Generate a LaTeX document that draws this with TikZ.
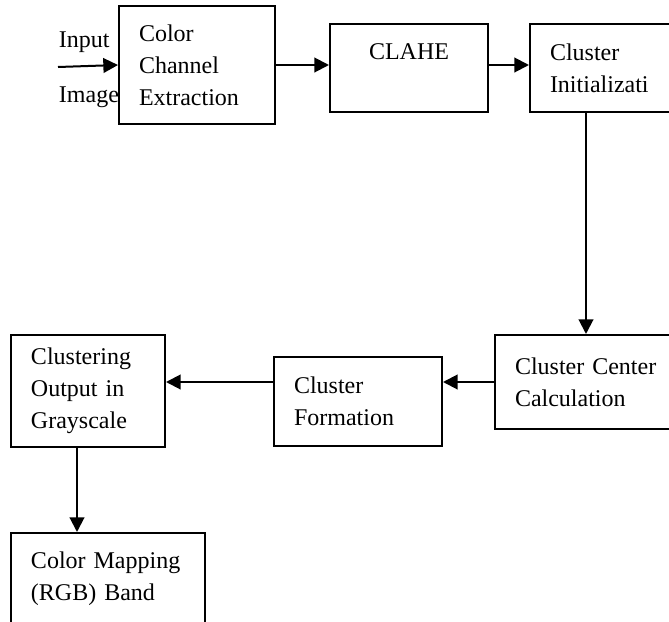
\documentclass[tikz,border=0pt]{standalone}
\usepackage{fontspec}
\setmainfont{Liberation Serif}
\usetikzlibrary{arrows.meta}

\begin{document}
\begin{tikzpicture}[
    x=0.75pt, y=-0.75pt,
    box/.style={draw, fill=white, anchor=north west, align=left, inner xsep=15pt, inner ysep=0pt},
    flow/.style={-{Triangle[length=11pt,width=11pt]}},
    line width=1.5pt,
    font=\fontsize{18}{24}\selectfont
]
\path[use as bounding box] (0,0) rectangle (669,622);
\clip (0,0) rectangle (669,622);
\node[anchor=base west, inner sep=0pt] (IN) at (58,47) {Input};
\node[anchor=base west, inner sep=0pt] (IM) at (58,102) {Image};
\node[box, text width=87pt, minimum height=88.5pt] (CE) at (118,5) {Color\\Channel\\Extraction};
\node[box, align=center, text width=88.5pt, minimum height=66pt] (CL) at (329,23) {CLAHE\\~};
\node[box, text width=88.5pt, minimum height=66pt] (CI) at (529,23) {Cluster\\Initializati};
\node[box, text width=112.5pt, minimum height=70.5pt] (CC) at (494,334) {Cluster Center\\Calculation};
\node[box, text width=96pt, minimum height=66.75pt] (CF) at (273,356) {Cluster\\Formation};
\node[box, text width=85.5pt, minimum height=84pt] (CO) at (10,334) {Clustering\\Output in\\Grayscale};
\node[box, text width=115.5pt, minimum height=88.5pt] (CM) at (10,532) {Color Mapping\\(RGB) Band\\~};
\coordinate (S) at (58,67);
\coordinate (D) at ([xshift=42.75pt]CI.south west);
\coordinate (E) at ([xshift=-8.25pt]CO.south);
\draw[flow] (S) -- (CE.west);
\draw[flow] (CE.east) -- (CE.east -| CL.west);
\draw[flow] (CE.east -| CL.east) -- (CE.east -| CI.west);
\draw[flow] (D) -- (D |- CC.north);
\draw[flow] (CC.west) -- (CC.west -| CF.east);
\draw[flow] (CC.west -| CF.west) -- (CC.west -| CO.east);
\draw[flow] (E) -- (E |- CM.north);
\end{tikzpicture}
\end{document}
